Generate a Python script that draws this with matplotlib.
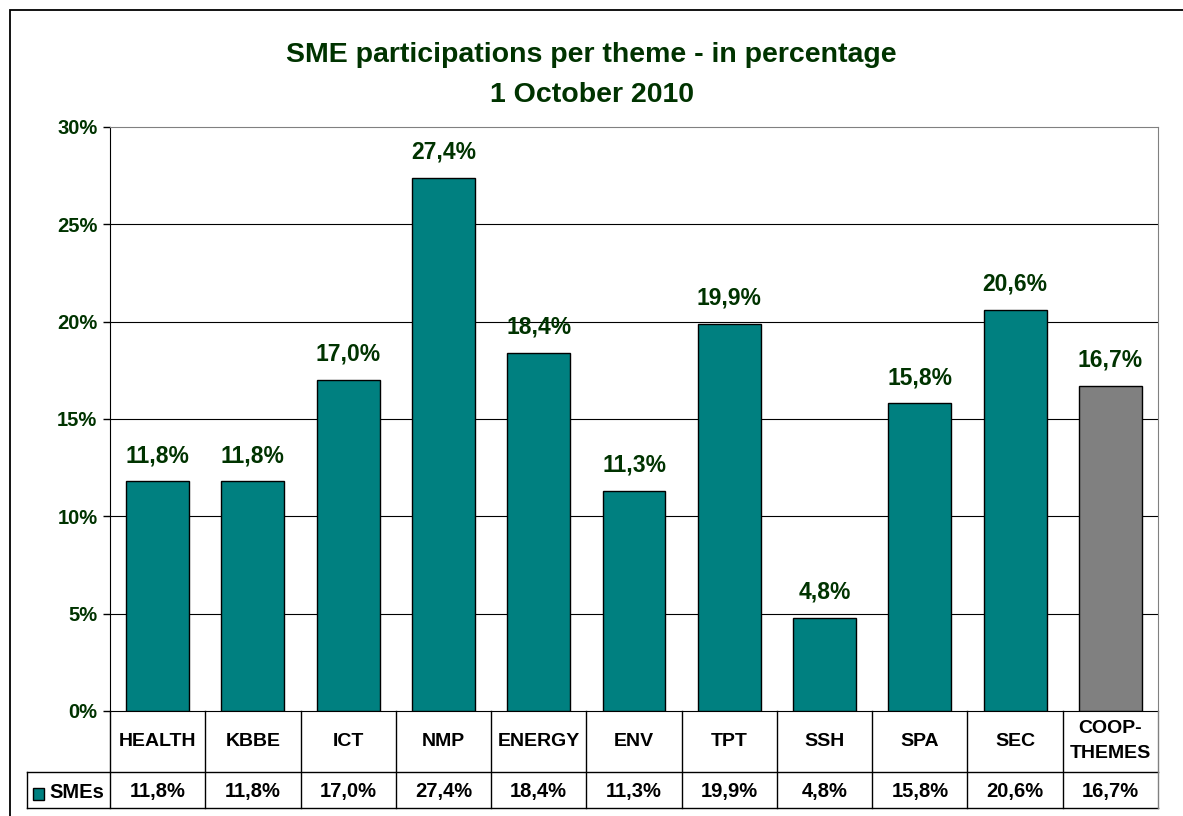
import matplotlib
matplotlib.use("Agg")
import matplotlib.pyplot as plt
from matplotlib.patches import Rectangle
from matplotlib.lines import Line2D

plt.rcParams["font.family"] = ["Liberation Sans", "DejaVu Sans"]
plt.rcParams["font.weight"] = "bold"

themes = ["HEALTH", "KBBE", "ICT", "NMP", "ENERGY", "ENV", "TPT", "SSH", "SPA", "SEC", "COOP-\nTHEMES"]
smes = [11.8, 11.8, 17.0, 27.4, 18.4, 11.3, 19.9, 4.8, 15.8, 20.6, 16.7]
value_labels = ["11,8%", "11,8%", "17,0%", "27,4%", "18,4%", "11,3%", "19,9%", "4,8%", "15,8%", "20,6%", "16,7%"]
bar_colors = ["#008080"] * 10 + ["#808080"]
y_ticks = [0, 5, 10, 15, 20, 25, 30]

GREEN = "#003300"
W, H = 1183, 816

fig = plt.figure(figsize=(W / 100, H / 100), dpi=100)


def fy(py):
    return 1 - py / H


def fx(px):
    return px / W


# outer chart border (only top/left visible in the reference)
fig.add_artist(Rectangle((10 / W, -0.05), 1.2, 1 - 10 / H + 0.05, transform=fig.transFigure,
                         fill=False, edgecolor="black", linewidth=1.3))

left, right, top, bottom = 110, 1158, 127, 711
ax = fig.add_axes([left / W, 1 - bottom / H, (right - left) / W, (bottom - top) / H])

x = range(len(themes))
ax.bar(x, smes, width=0.66, color=bar_colors, edgecolor="black", linewidth=1.0, zorder=3)
for i, (v, lab) in enumerate(zip(smes, value_labels)):
    ax.annotate(lab, (i, v), xytext=(0, 18.5), textcoords="offset points",
                ha="center", va="center", fontsize=16.5, fontweight="bold", color=GREEN)

ax.set_xlim(-0.5, len(themes) - 0.5)
ax.set_ylim(0, 30)
ax.set_yticks(y_ticks)
ax.set_yticklabels([f"{t}%" for t in y_ticks], fontsize=14.5, fontweight="bold", color=GREEN)
ax.tick_params(axis="y", length=5, width=1, color="black", pad=4)
ax.set_xticks([])
for t in y_ticks[1:-1]:
    ax.axhline(t, color="black", linewidth=0.8, zorder=1)
ax.spines["top"].set_color("#808080")
ax.spines["right"].set_color("#808080")
ax.spines["left"].set_color("black")
ax.spines["bottom"].set_color("black")

# data table under the plot area
row1_bot, row2_bot = 772, 808
col_w = (right - left) / len(themes)
tbl = dict(transform=fig.transFigure, color="black", linewidth=1.0)
fig.add_artist(Line2D([fx(27), fx(right)], [fy(row1_bot)] * 2, **tbl))
fig.add_artist(Line2D([fx(27), fx(right)], [fy(row2_bot)] * 2, **tbl))
fig.add_artist(Line2D([fx(27), fx(27)], [fy(row1_bot), fy(row2_bot)], **tbl))
for k in range(len(themes) + 1):
    xx = fx(left + k * col_w)
    col = "#808080" if k == len(themes) else "black"
    fig.add_artist(Line2D([xx, xx], [fy(bottom), fy(row2_bot)], transform=fig.transFigure,
                          color=col, linewidth=1.0))

for k, (name, lab) in enumerate(zip(themes, value_labels)):
    cx = fx(left + (k + 0.5) * col_w)
    fig.text(cx, fy(741), name, ha="center", va="center",
             fontsize=14, fontweight="bold", color="black", linespacing=1.65)
    fig.text(cx, fy(792), lab, ha="center", va="center",
             fontsize=14.5, fontweight="bold", color="black")

# legend key + series name
fig.add_artist(Rectangle((fx(33), fy(800)), 11 / W, 12 / H, transform=fig.transFigure,
                         facecolor="#008080", edgecolor="black", linewidth=1.0))
fig.text(fx(49), fy(792), "SMEs", ha="left", va="center", fontsize=14.5,
         fontweight="bold", color="black")

fig.text(0.5, fy(62), "SME participations per theme - in percentage", ha="center", va="baseline",
         fontsize=20.5, fontweight="bold", color=GREEN)
fig.text(0.5, fy(102), "1 October 2010", ha="center", va="baseline",
         fontsize=20.5, fontweight="bold", color=GREEN)

fig.savefig("out.png", dpi=100)
